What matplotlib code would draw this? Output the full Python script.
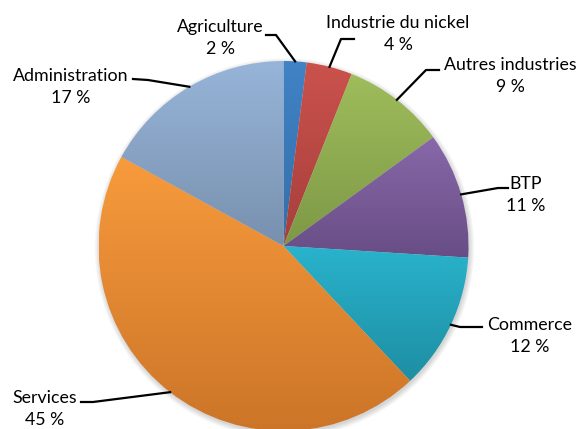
import numpy as np
import matplotlib
matplotlib.use("Agg")
import matplotlib.pyplot as plt
from matplotlib.colors import to_rgb
from matplotlib.patches import Circle

plt.rcParams['font.family'] = ['Lato', 'DejaVu Sans']

secteurs = ["Agriculture", "Industrie du nickel", "Autres industries", "BTP",
            "Commerce", "Services", "Administration"]
parts = [2, 4, 9, 11, 12, 45, 17]

# couleurs haut / bas du dégradé de chaque part
haut = ["#4083c6", "#cb524d", "#9fbd5b", "#8868a9", "#29b3cc", "#f89b3d", "#97b5d9"]
bas = ["#346ea8", "#a63f3b", "#7e9846", "#684d85", "#1e8ea3", "#cc7528", "#7890ae"]

W, H = 581, 429
fig = plt.figure(figsize=(W / 100, H / 100), dpi=100)
ax = fig.add_axes([0, 0, 1, 1])
ax.set_xlim(0, W)
ax.set_ylim(0, H)
ax.axis('off')

cx, cy, R = 283.5, H - 246, 185

# ombre douce autour du camembert
for i in range(7):
    ax.add_patch(Circle((cx + 1, cy - 2), R + i * 0.8, color='black', alpha=0.025, zorder=0, lw=0))

wedges, _ = ax.pie(parts, startangle=90, counterclock=False, center=(cx, cy), radius=R,
                   wedgeprops=dict(linewidth=0, zorder=1))

for w, c1, c2 in zip(wedges, haut, bas):
    w.set_facecolor('none')
    bb = w.get_path().get_extents(w.get_transform() - ax.transData)
    t = np.linspace(0, 1, 200)[:, None, None]
    img = (1 - t) * np.array(to_rgb(c2)) + t * np.array(to_rgb(c1))
    im = ax.imshow(img, extent=(bb.x0, bb.x1, bb.y0, bb.y1), origin='lower',
                   aspect='auto', interpolation='bilinear', zorder=1)
    im.set_clip_path(w)

ax.set_xlim(0, W)
ax.set_ylim(0, H)

# position des étiquettes (pixels, y vers le bas) et coudes des traits de rappel
lab_pos = [(220, 38), (398, 34), (510, 76), (526, 195), (530, 336), (45, 409), (71, 87)]
coudes = [[(266, 35), (276, 35)], [(354, 39), (341, 39)], [(439, 70), (426, 70)],
          [(508, 188), (498, 188)], [(482, 327), (460, 327)], [(81, 402), (93, 402)],
          [(133, 79), (148, 80)]]

cum = np.cumsum([0] + parts[:-1])
for nom, p, c0, (tx, ty), pts in zip(secteurs, parts, cum, lab_pos, coudes):
    a = np.deg2rad(90 - (c0 + p / 2) * 3.6)
    ex, ey = cx + R * np.cos(a), cy + R * np.sin(a)
    xs = [q[0] for q in pts] + [ex]
    ys = [H - q[1] for q in pts] + [ey]
    ax.plot(xs, ys, color='black', lw=1.6, zorder=3)
    ax.text(tx, H - ty, f"{nom}\n{p} %", ha='center', va='center', fontsize=12.8,
            linespacing=1.45, color='black', zorder=4)

fig.savefig("out.png", dpi=100)
